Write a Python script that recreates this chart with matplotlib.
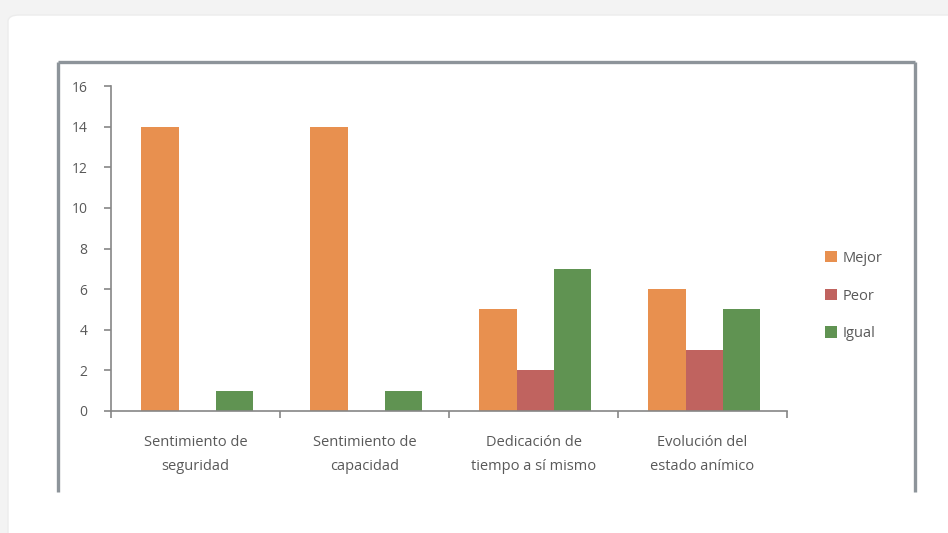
import matplotlib
matplotlib.use("Agg")
import matplotlib.pyplot as plt
from matplotlib.patches import FancyBboxPatch
from matplotlib.lines import Line2D
import numpy as np

categories = ["Sentimiento de\nseguridad", "Sentimiento de\ncapacidad",
              "Dedicación de\ntiempo a sí mismo", "Evolución del\nestado anímico"]
series_names = ["Mejor", "Peor", "Igual"]
mejor = [14, 14, 5, 6]
peor = [0, 0, 2, 3]
igual = [1, 1, 7, 5]
yticks = [0, 2, 4, 6, 8, 10, 12, 14, 16]

colors = ["#E8904F", "#C0635F", "#609352"]
text_color = "#595959"
plt.rcParams['font.family'] = ['Open Sans', 'DejaVu Sans']

W, H = 948, 533
fig = plt.figure(figsize=(W / 100, H / 100), dpi=100)
fig.patch.set_facecolor("#f3f3f3")

def fx(px):
    return px / W

def fy(py):
    return 1 - py / H

# card
card = FancyBboxPatch((fx(8), fy(540)), fx(960) - fx(8), fy(15) - fy(540),
                      boxstyle="round,pad=0,rounding_size=0.012",
                      transform=fig.transFigure, facecolor="white",
                      edgecolor="#ececec", linewidth=1.0, zorder=0)
fig.add_artist(card)

# chart frame (clipped at bottom)
fc = "#8d949a"
for xs, ys in [([58, 915], [62, 62]), ([58, 58], [62, 492]), ([915, 915], [62, 492])]:
    fig.add_artist(Line2D([fx(x) for x in xs], [fy(y) for y in ys],
                          transform=fig.transFigure, color=fc, linewidth=2.4,
                          solid_capstyle="butt"))

ax = fig.add_axes([fx(111), fy(411), fx(787) - fx(111), fy(86) - fy(411)])
ax.set_facecolor("none")

x = np.arange(len(categories))
bw = 0.22
for i, (vals, name) in enumerate(zip([mejor, peor, igual], series_names)):
    ax.bar(x + (i - 1) * bw + 0.01, vals, width=bw, color=colors[i], label=name, zorder=2)

ax.set_xlim(-0.5, len(categories) - 0.5)
ax.set_ylim(0, 16)
ax.set_yticks(yticks)
ax.set_yticklabels([str(t) for t in yticks], fontsize=10, color=text_color)
ax.set_xticks(np.arange(len(categories) + 1) - 0.5)
ax.set_xticklabels([])
ax.set_xticks(x, minor=True)
ax.set_xticklabels(categories, minor=True, fontsize=10.5, color=text_color,
                   linespacing=1.85)
ax.tick_params(axis="x", which="minor", length=0, pad=17)
ax.tick_params(axis="x", which="major", length=5, color="#868686", width=1.2)
ax.tick_params(axis="y", length=5, color="#868686", width=1.2, pad=12)
for s in ["top", "right"]:
    ax.spines[s].set_visible(False)
for s in ["left", "bottom"]:
    ax.spines[s].set_color("#868686")
    ax.spines[s].set_linewidth(1.2)

handles, labels = ax.get_legend_handles_labels()
fig.legend(handles, labels, loc="center left",
           bbox_to_anchor=(fx(812), fy(296)), frameon=False, fontsize=10.5,
           labelcolor=text_color, handlelength=0.8, handleheight=0.8,
           handletextpad=0.4, labelspacing=1.55)

fig.savefig("out.png", dpi=100, facecolor=fig.get_facecolor())
